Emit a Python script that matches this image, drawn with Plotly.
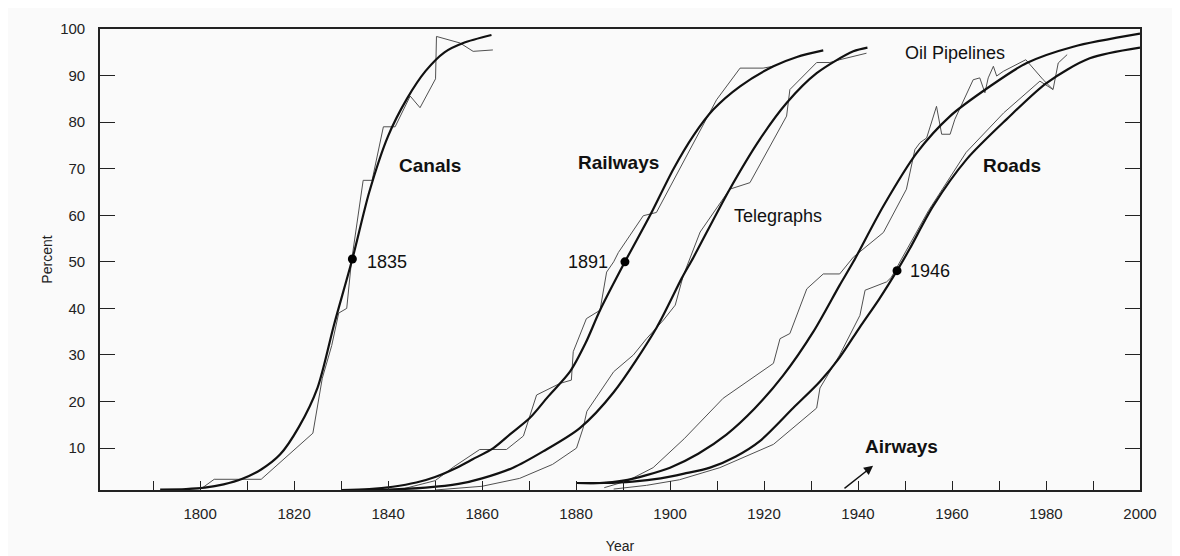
import plotly.graph_objects as go

# ---------------- data ----------------
canal_fit_year = [1791.5, 1797, 1801, 1805, 1809, 1813, 1817, 1821, 1825, 1828.5, 1832.4, 1836, 1840, 1844, 1848, 1852, 1856, 1862]
canal_fit_pct = [1.1, 1.2, 1.5, 2.2, 3.4, 5.4, 8.6, 14.5, 23, 36.5, 50.6, 65, 77, 85, 91, 95, 97, 98.7]

canal_raw_year = [1800, 1803, 1813, 1824, 1826, 1828, 1829.5, 1831.2, 1832.2, 1834.7, 1836.6, 1839, 1841.5, 1844.7, 1846.8, 1850.1, 1850.3, 1855.3, 1858.1, 1862.3]
canal_raw_pct = [1.1, 3.3, 3.3, 13.2, 25, 32, 39, 40, 50, 67.5, 67.5, 79, 79, 85.6, 83.1, 89.3, 98.4, 97, 95.2, 95.5]

rail_fit_year = [1830, 1836, 1841, 1846, 1850, 1854.6, 1858, 1862.4, 1866, 1870.2, 1874, 1878.7, 1882, 1885.1, 1890.4, 1895.7, 1900.7, 1904.9, 1909.2, 1914.9, 1922, 1927, 1932.6]
rail_fit_pct = [1.0, 1.2, 1.7, 2.6, 3.8, 5.8, 7.6, 10, 13, 16.5, 21, 26.4, 32.5, 39.6, 50, 59.9, 69.9, 77, 82.7, 87.7, 92, 94, 95.4]

rail_raw_year = [1843, 1850, 1854, 1859.5, 1865.2, 1868.8, 1871.6, 1876.6, 1879, 1879.4, 1882.2, 1885.1, 1886.5, 1888, 1889, 1894.3, 1897.1, 1907.7, 1909.9, 1914.9, 1919.8, 1922]
rail_raw_pct = [1.2, 3, 6, 9.7, 9.7, 12.6, 21.4, 23.9, 24.6, 30.7, 37.8, 39.6, 47.8, 50, 52, 59.9, 60.6, 80.5, 84.8, 91.6, 91.6, 92]

tele_fit_year = [1830, 1840, 1848, 1855, 1860, 1866.6, 1873, 1880.8, 1888, 1897.1, 1902.5, 1905, 1912.7, 1919.1, 1924.8, 1931.2, 1939, 1942]
tele_fit_pct = [1.0, 1.1, 1.5, 2.3, 3.5, 5.8, 9.3, 14.3, 22, 35.8, 46.5, 51, 65.6, 76.3, 84.1, 90.5, 95.2, 96]

tele_raw_year = [1850, 1860, 1868, 1875, 1880.1, 1881.5, 1882.3, 1888, 1892.2, 1895, 1898.6, 1901.1, 1902.8, 1906.4, 1912.7, 1917, 1924.8, 1925.5, 1931.2, 1934, 1936.1, 1941.8]
tele_raw_pct = [1, 1.8, 3.5, 6.5, 10, 14.3, 17.9, 26.4, 30, 33.5, 37.5, 40.7, 47, 56.4, 65.6, 67, 81.3, 87, 92.8, 92.8, 93.4, 94.8]

oil_fit_year = [1880, 1885, 1890, 1895, 1900, 1906, 1912, 1918, 1924, 1930.5, 1936.1, 1939, 1945.4, 1952.5, 1959.6, 1968.1, 1975.9, 1985.8, 2000]
oil_fit_pct = [2.5, 2.5, 3.0, 4.2, 5.8, 8.8, 12.9, 18.5, 25.5, 35, 45, 50, 62, 73.4, 81.3, 87.7, 92.7, 96.2, 99]

oil_raw_year = [1886, 1891, 1896.4, 1903, 1911.3, 1922, 1923.4, 1925.5, 1929.1, 1932.6, 1936.1, 1939, 1945.4, 1950.3, 1952.1, 1953.2, 1954.6, 1956.7, 1957.8, 1959.6, 1960.6, 1963.1, 1964.5, 1965.9, 1967, 1967.7, 1968.8, 1969.5, 1970.9, 1975.7, 1979.4, 1981.5]
oil_raw_pct = [1.5, 3, 5.8, 12, 20.7, 28.2, 33.5, 34.6, 44.2, 47.4, 47.4, 51, 56.3, 65.6, 74.1, 75.6, 76.6, 83.4, 77.4, 77.4, 80.6, 86.3, 89.1, 89.5, 86.3, 89.5, 92, 89.9, 90.9, 93.4, 89.1, 87]

road_fit_year = [1880, 1886, 1892, 1898, 1903, 1908.5, 1914, 1919.1, 1926.2, 1931.9, 1936.1, 1940.4, 1944.5, 1948.3, 1951, 1956, 1963.1, 1971.6, 1980.1, 1989.3, 2000]
road_fit_pct = [2.5, 2.5, 2.8, 3.5, 4.5, 5.8, 8.2, 11.5, 18.6, 24.3, 29.5, 36, 42, 48.1, 52.8, 62, 72, 80.6, 88.4, 93.7, 96]

road_raw_year = [1888, 1895, 1902, 1910.6, 1922, 1931.2, 1931.9, 1936.1, 1940.4, 1941.5, 1946.1, 1947.1, 1955, 1963, 1971, 1978.7, 1981.5, 1982.6, 1984.5]
road_raw_pct = [1.2, 2, 3.2, 5.8, 10.8, 18.6, 22.9, 30, 38.5, 43.9, 45.7, 46.7, 61, 73.5, 82, 88.8, 87, 92.7, 94.5]

mid_year = [1832.4, 1890.4, 1948.3]
mid_pct = [50.6, 50, 48.1]
mid_text = ["1835", "1891", "1946"]

labels = ["Canals", "Railways", "Telegraphs", "Oil Pipelines", "Roads", "Airways"]
label_year = [1849.0, 1889.0, 1923.0, 1960.6, 1972.7, 1949.2]
label_pct = [70.6, 71.3, 59.9, 94.8, 70.6, 10.4]
label_bold = [True, True, False, False, True, True]

x_ticks = list(range(1790, 2001, 10))
x_ticktext = [str(t) if t % 20 == 0 else "" for t in x_ticks]
y_ticks = list(range(10, 101, 10))

# ---------------- figure ----------------
FONT = "Liberation Sans, Arial, Helvetica, sans-serif"
fig = go.Figure()

raw_style = dict(color="#505050", width=1)
fit_style = dict(color="#111111", width=2.2, shape="spline", smoothing=0.8)

for xs, ys in [(canal_raw_year, canal_raw_pct), (rail_raw_year, rail_raw_pct),
               (tele_raw_year, tele_raw_pct), (oil_raw_year, oil_raw_pct),
               (road_raw_year, road_raw_pct)]:
    fig.add_trace(go.Scatter(x=xs, y=ys, mode="lines", line=raw_style,
                             hoverinfo="skip", showlegend=False))

for xs, ys in [(canal_fit_year, canal_fit_pct), (rail_fit_year, rail_fit_pct),
               (tele_fit_year, tele_fit_pct), (oil_fit_year, oil_fit_pct),
               (road_fit_year, road_fit_pct)]:
    fig.add_trace(go.Scatter(x=xs, y=ys, mode="lines", line=fit_style,
                             hoverinfo="skip", showlegend=False))

fig.add_trace(go.Scatter(x=mid_year, y=mid_pct, mode="markers",
                         marker=dict(color="black", size=9),
                         hoverinfo="skip", showlegend=False))

# midpoint year labels
mid_xshift = [13, -15, 11]
mid_yshift = [-3, 0, 0]
mid_anchor = ["left", "right", "left"]
for yr, pc, tx, sh, ys_, an in zip(mid_year, mid_pct, mid_text, mid_xshift, mid_yshift, mid_anchor):
    fig.add_annotation(x=yr, y=pc, text=tx, showarrow=False, xshift=sh, yshift=ys_,
                       xanchor=an, font=dict(family=FONT, size=18, color="#111"))

for tx, yr, pc, b in zip(labels, label_year, label_pct, label_bold):
    fig.add_annotation(x=yr, y=pc, text=f"<b>{tx}</b>" if b else tx, showarrow=False,
                       font=dict(family=FONT, size=19 if b else 18, color="#111"))

# Airways arrow
fig.add_annotation(x=1943.2, y=6.2, ax=1936.8, ay=1.1, xref="x", yref="y",
                   axref="x", ayref="y", text="", showarrow=True,
                   arrowhead=2, arrowsize=1.3, arrowwidth=1.4, arrowcolor="#111")

fig.update_layout(
    width=1180, height=556,
    margin=dict(l=92, r=48, t=21, b=72),
    paper_bgcolor="#fafafa", plot_bgcolor="#fafafa",
    font=dict(family=FONT, size=15, color="#222"),
    showlegend=False,
)
fig.update_xaxes(
    range=[1778.7, 2000], tickmode="array", tickvals=x_ticks, ticktext=x_ticktext,
    ticks="inside", ticklen=9, tickwidth=1.2, tickcolor="#222",
    showline=True, linecolor="#222", linewidth=1.6, mirror=True,
    showgrid=False, zeroline=False, ticklabelstandoff=9,
    title=dict(text="Year", standoff=20, font=dict(family=FONT, size=14)),
    tickfont=dict(family=FONT, size=15),
)
fig.update_yaxes(
    range=[1.0, 100], tickmode="array", tickvals=y_ticks,
    ticks="inside", ticklen=15, tickwidth=1.2, tickcolor="#222",
    showline=True, linecolor="#222", linewidth=1.6, mirror="ticks",
    showgrid=False, zeroline=False, ticklabelstandoff=10,
    title=dict(text="Percent", standoff=4, font=dict(family=FONT, size=14)),
    tickfont=dict(family=FONT, size=15),
)

fig.write_html("out.html")
